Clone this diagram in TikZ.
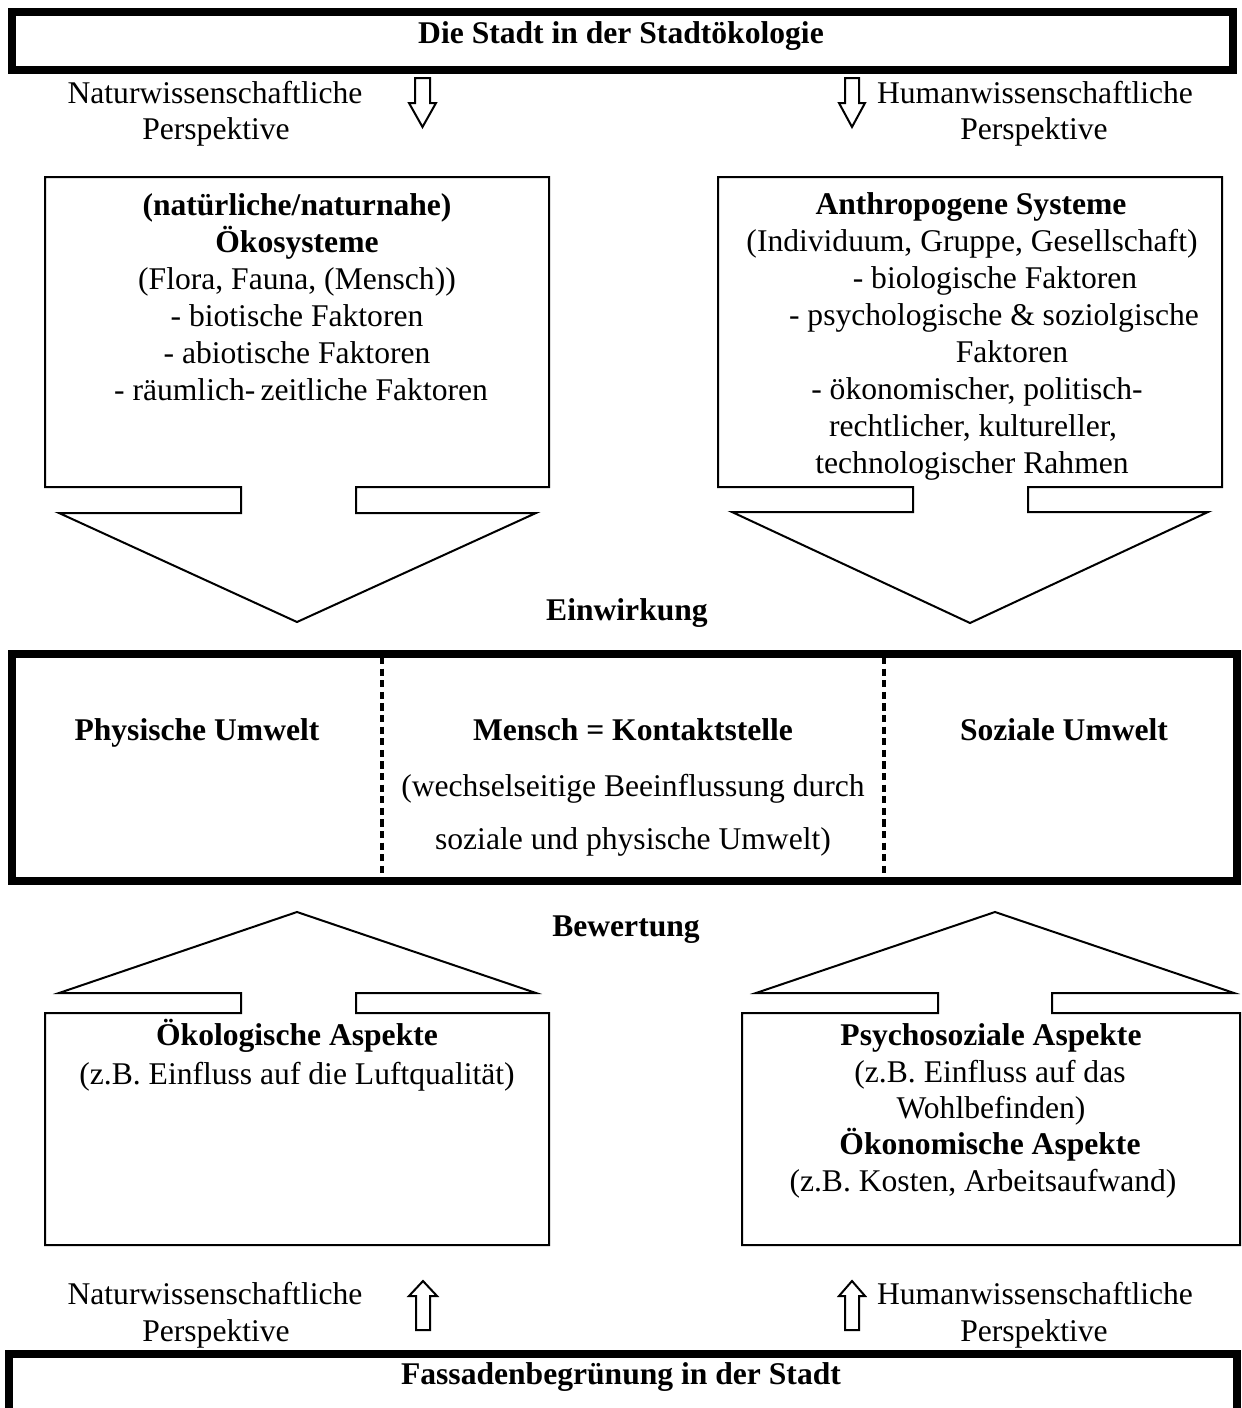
\documentclass[tikz,border=0pt]{standalone}
\usepackage{fontspec}
\setmainfont{Liberation Serif}
\begin{document}
\begin{tikzpicture}[x=0.5pt,y=-0.5pt,
  txt/.style={anchor=base,inner sep=0pt,font=\fontsize{15.8}{18}\selectfont},
  bld/.style={anchor=base,inner sep=0pt,font=\fontsize{15.8}{18}\selectfont\bfseries},
  thinline/.style={line width=1pt,line join=miter},
  heavyline/.style={line width=4pt,line join=miter},
  sepline/.style={line width=1.6pt,dash pattern=on 3.6pt off 2.2pt}]
\useasboundingbox (0,0) rectangle (1242,1408);

% ---------- title frame ----------
\draw[heavyline] (12,12) rectangle (1233,70);
\node[bld] (title) at (621,43) {Die Stadt in der Stadtökologie};

% ---------- perspective labels (top) ----------
\node[txt] (nwA) at (215,103) {Naturwissenschaftliche};
\node[txt] (nwB) at (216,139) {Perspektive};
\node[txt] (hwA) at (1035,103) {Humanwissenschaftliche};
\node[txt] (hwB) at (1034,139) {Perspektive};

% small hollow down arrows
\draw[thinline] (415,78) -- (430,78) -- (430,103) -- (436,103) -- (422.5,127)
  -- (409,103) -- (415,103) -- cycle;
\draw[thinline] (845,78) -- (859,78) -- (859,103) -- (865,103) -- (852,127)
  -- (839,103) -- (845,103) -- cycle;

% ---------- upper left box with arrow ----------
\draw[thinline] (45,177) -- (549,177) -- (549,487) -- (356,487) -- (356,513)
  -- (536,513) -- (297,622) -- (59,513) -- (241,513) -- (241,487)
  -- (45,487) -- cycle;
\node[bld] (okA) at (297,215) {(natürliche/naturnahe)};
\node[bld] (okB) at (297,252) {Ökosysteme};
\node[txt] (okC) at (297,289) {(Flora, Fauna, (Mensch))};
\node[txt] (okD) at (297,326) {- biotische Faktoren};
\node[txt] (okE) at (297,363) {- abiotische Faktoren};
\node[txt] (okF) at (301,400) {- räumlich-\,zeitliche Faktoren};

% ---------- upper right box with arrow ----------
\draw[thinline] (718,177) -- (1222,177) -- (1222,487) -- (1028,487) -- (1028,512)
  -- (1208,512) -- (970,623) -- (732,512) -- (913,512) -- (913,487)
  -- (718,487) -- cycle;
\node[bld] (anA) at (971,214) {Anthropogene Systeme};
\node[txt] (anB) at (972,251) {(Individuum, Gruppe, Gesellschaft)};
\node[txt] (anC) at (995,288) {- biologische Faktoren};
\node[txt] (anD) at (994,325) {- psychologische \& soziolgische};
\node[txt] (anE) at (1012,362) {Faktoren};
\node[txt] (anF) at (977,399) {- ökonomischer, politisch-};
\node[txt] (anG) at (973,436) {rechtlicher, kultureller,};
\node[txt] (anH) at (972,473) {technologischer Rahmen};

\node[bld] (einw) at (627,620) {Einwirkung};

% ---------- central frame ----------
\draw[heavyline] (12,654) rectangle (1237,881);
\draw[sepline] (382,657) -- (382,878);
\draw[sepline] (884,657) -- (884,878);
\node[bld] (phys) at (197,740) {Physische Umwelt};
\node[bld] (mensch) at (633,740) {Mensch = Kontaktstelle};
\node[txt] (wechA) at (633,796) {(wechselseitige Beeinflussung durch};
\node[txt] (wechB) at (633,849) {soziale und physische Umwelt)};
\node[bld] (soz) at (1064,740) {Soziale Umwelt};

\node[bld] (bew) at (626,936) {Bewertung};

% ---------- lower left box with arrow ----------
\draw[thinline] (45,1013) -- (241,1013) -- (241,993) -- (59,993) -- (297,912)
  -- (536,993) -- (356,993) -- (356,1013) -- (549,1013) -- (549,1245)
  -- (45,1245) -- cycle;
\node[bld] (oeA) at (297,1045) {Ökologische Aspekte};
\node[txt] (oeB) at (297,1084) {(z.B. Einfluss auf die Luftqualität)};

% ---------- lower right box with arrow ----------
\draw[thinline] (742,1013) -- (938,1013) -- (938,993) -- (756,993) -- (995,912)
  -- (1234,993) -- (1052,993) -- (1052,1013) -- (1240,1013) -- (1240,1245)
  -- (742,1245) -- cycle;
\node[bld] (psA) at (991,1045) {Psychosoziale Aspekte};
\node[txt] (psB) at (990,1082) {(z.B. Einfluss auf das};
\node[txt] (psC) at (991,1118) {Wohlbefinden)};
\node[bld] (psD) at (990,1154) {Ökonomische Aspekte};
\node[txt] (psE) at (983,1191) {(z.B. Kosten, Arbeitsaufwand)};

% ---------- perspective labels (bottom) ----------
\node[txt] (nwC) at (215,1304) {Naturwissenschaftliche};
\node[txt] (nwD) at (216,1341) {Perspektive};
\node[txt] (hwC) at (1035,1304) {Humanwissenschaftliche};
\node[txt] (hwD) at (1034,1341) {Perspektive};

% small hollow up arrows
\draw[thinline] (416,1330) -- (430,1330) -- (430,1296) -- (437,1296) -- (423,1281)
  -- (409,1296) -- (416,1296) -- cycle;
\draw[thinline] (845,1330) -- (859,1330) -- (859,1296) -- (865,1296) -- (852,1281)
  -- (839,1296) -- (845,1296) -- cycle;

% ---------- bottom frame (runs off the lower edge) ----------
\draw[heavyline] (9,1420) -- (9,1354) -- (1237,1354) -- (1237,1420);
\node[bld] (fass) at (621,1384) {Fassadenbegrünung in der Stadt};
\end{tikzpicture}
\end{document}
